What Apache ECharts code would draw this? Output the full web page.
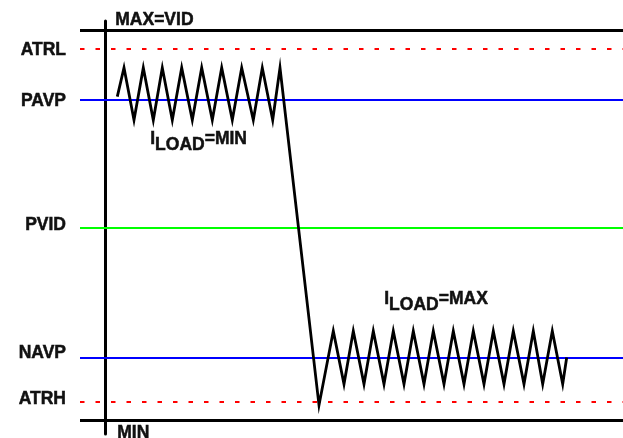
<!DOCTYPE html>
<html>
<head>
<meta charset="utf-8">
<script src="https://cdn.jsdelivr.net/npm/echarts@6/dist/echarts.min.js"></script>
<style>html,body{margin:0;padding:0;background:#fff}#c{width:623px;height:438px}</style>
</head>
<body>
<div id="c"></div>
<script>
// Level names and their voltage positions (arbitrary units, MIN = 0, MAX = 100)
const levelNames  = ['ATRL', 'PAVP', 'PVID', 'NAVP', 'ATRH'];
const levelValues = [95.1, 82.0, 49.2, 16.0, 4.6];
const railNames   = ['MAX=VID', 'MIN'];
const railValues  = [100, 0];

// Output voltage waveform (time, voltage)
const waveTime = [2.46, 3.8, 5.8, 7.66, 9.66, 11.46, 13.46, 15.34, 17.46, 19.34, 21.46, 23.34, 25.46,
  27.34, 29.66, 31.46, 33.54, 35.0, 42.8,
  45.66, 47.8, 49.66, 51.8, 53.66, 55.8, 57.66, 59.8, 61.66, 63.8, 65.66, 67.8, 69.66, 71.8,
  73.66, 75.8, 77.66, 79.8, 81.66, 83.8, 85.66, 87.54, 89.46, 91.54, 92.34];
const waveVolt = [82.9, 90.3, 76.9, 90.3, 76.9, 90.3, 76.9, 90.3, 76.9, 90.3, 76.9, 90.3, 76.9,
  90.3, 76.9, 90.3, 76.9, 90.3, 3.8,
  22.8, 9.2, 22.8, 9.2, 22.8, 9.2, 22.8, 9.2, 22.8, 9.2, 22.8, 9.2, 22.8, 9.2,
  22.8, 9.2, 22.8, 9.2, 22.8, 9.2, 22.8, 9.2, 22.8, 9.2, 16.0];

const loadLabels = ['MIN', 'MAX'];

const FONT = '"Liberation Sans", Arial, sans-serif';
const levelColors  = ['#ff0000', '#0000ff', '#00ff00', '#0000ff', '#ff0000'];
const levelTypes   = ['dashed', 'solid', 'solid', 'solid', 'dashed'];
const labelShift   = [1.5, 1.5, -3, -4, -2.5];

const chart = echarts.init(document.getElementById('c'), null, {renderer: 'canvas'});

const levelLines = levelNames.map((n, i) => ({
  name: n,
  yAxis: levelValues[i],
  lineStyle: {color: levelColors[i], type: levelTypes[i] === 'dashed' ? [4.5, 11] : 'solid', width: 2},
  label: {show: true, position: 'start', formatter: n, distance: 14, offset: [0, labelShift[i]],
    color: '#111', fontSize: 17.5, fontWeight: 'bold', fontFamily: FONT,
    textBorderColor: '#111', textBorderWidth: 0.5}
}));
const railLines = railValues.map((v, i) => ({
  name: railNames[i], yAxis: v,
  lineStyle: {color: '#000', type: 'solid', width: 3},
  label: {show: false}
}));

const FONTSTR = 'bold 17.5px ' + FONT;
const base = {font: FONTSTR, fill: '#111', stroke: '#111', lineWidth: 0.5, lineHeight: 18};
const richStyles = {
  a: Object.assign({}, base, {verticalAlign: 'top'}),
  b: Object.assign({}, base, {verticalAlign: 'bottom'}),
  s: {font: FONTSTR, lineHeight: 24}
};
const plain = {font: FONTSTR, fill: '#111', stroke: '#111', lineWidth: 0.5};

chart.setOption({
  animation: false,
  backgroundColor: '#fff',
  grid: {left: 80, right: 0, top: 21, bottom: 4, containLabel: false},
  xAxis: {type: 'value', min: -5, max: 103.6, show: false, splitLine: {show: false}},
  yAxis: {type: 'value', min: -3.6, max: 102.3,
    axisLine: {show: true, onZero: true, lineStyle: {color: '#000', width: 3}},
    axisTick: {show: false}, axisLabel: {show: false}, splitLine: {show: false}},
  series: [
    {
      type: 'line', z: 1, silent: true, data: [],
      markLine: {symbol: ['none', 'none'], silent: true, animation: false,
        data: railLines.concat(levelLines)}
    },
    {
      type: 'line', z: 5, silent: true, showSymbol: false, symbol: 'none',
      lineStyle: {color: '#000', width: 2.8, join: 'miter'},
      data: waveTime.map((t, i) => [t, waveVolt[i]])
    }
  ],
  graphic: [
    {type: 'text', left: 115, top: 11, style: Object.assign({text: railNames[0]}, plain)},
    {type: 'text', left: 117, top: 424, style: Object.assign({text: railNames[1]}, plain)},
    {type: 'text', left: 150, top: 130, style: {text: '{a|I}{b|LOAD}{a|=' + loadLabels[0] + '}{s|}', rich: richStyles}},
    {type: 'text', left: 384, top: 290, style: {text: '{a|I}{b|LOAD}{a|=' + loadLabels[1] + '}{s|}', rich: richStyles}}
  ]
});
</script>
</body>
</html>
